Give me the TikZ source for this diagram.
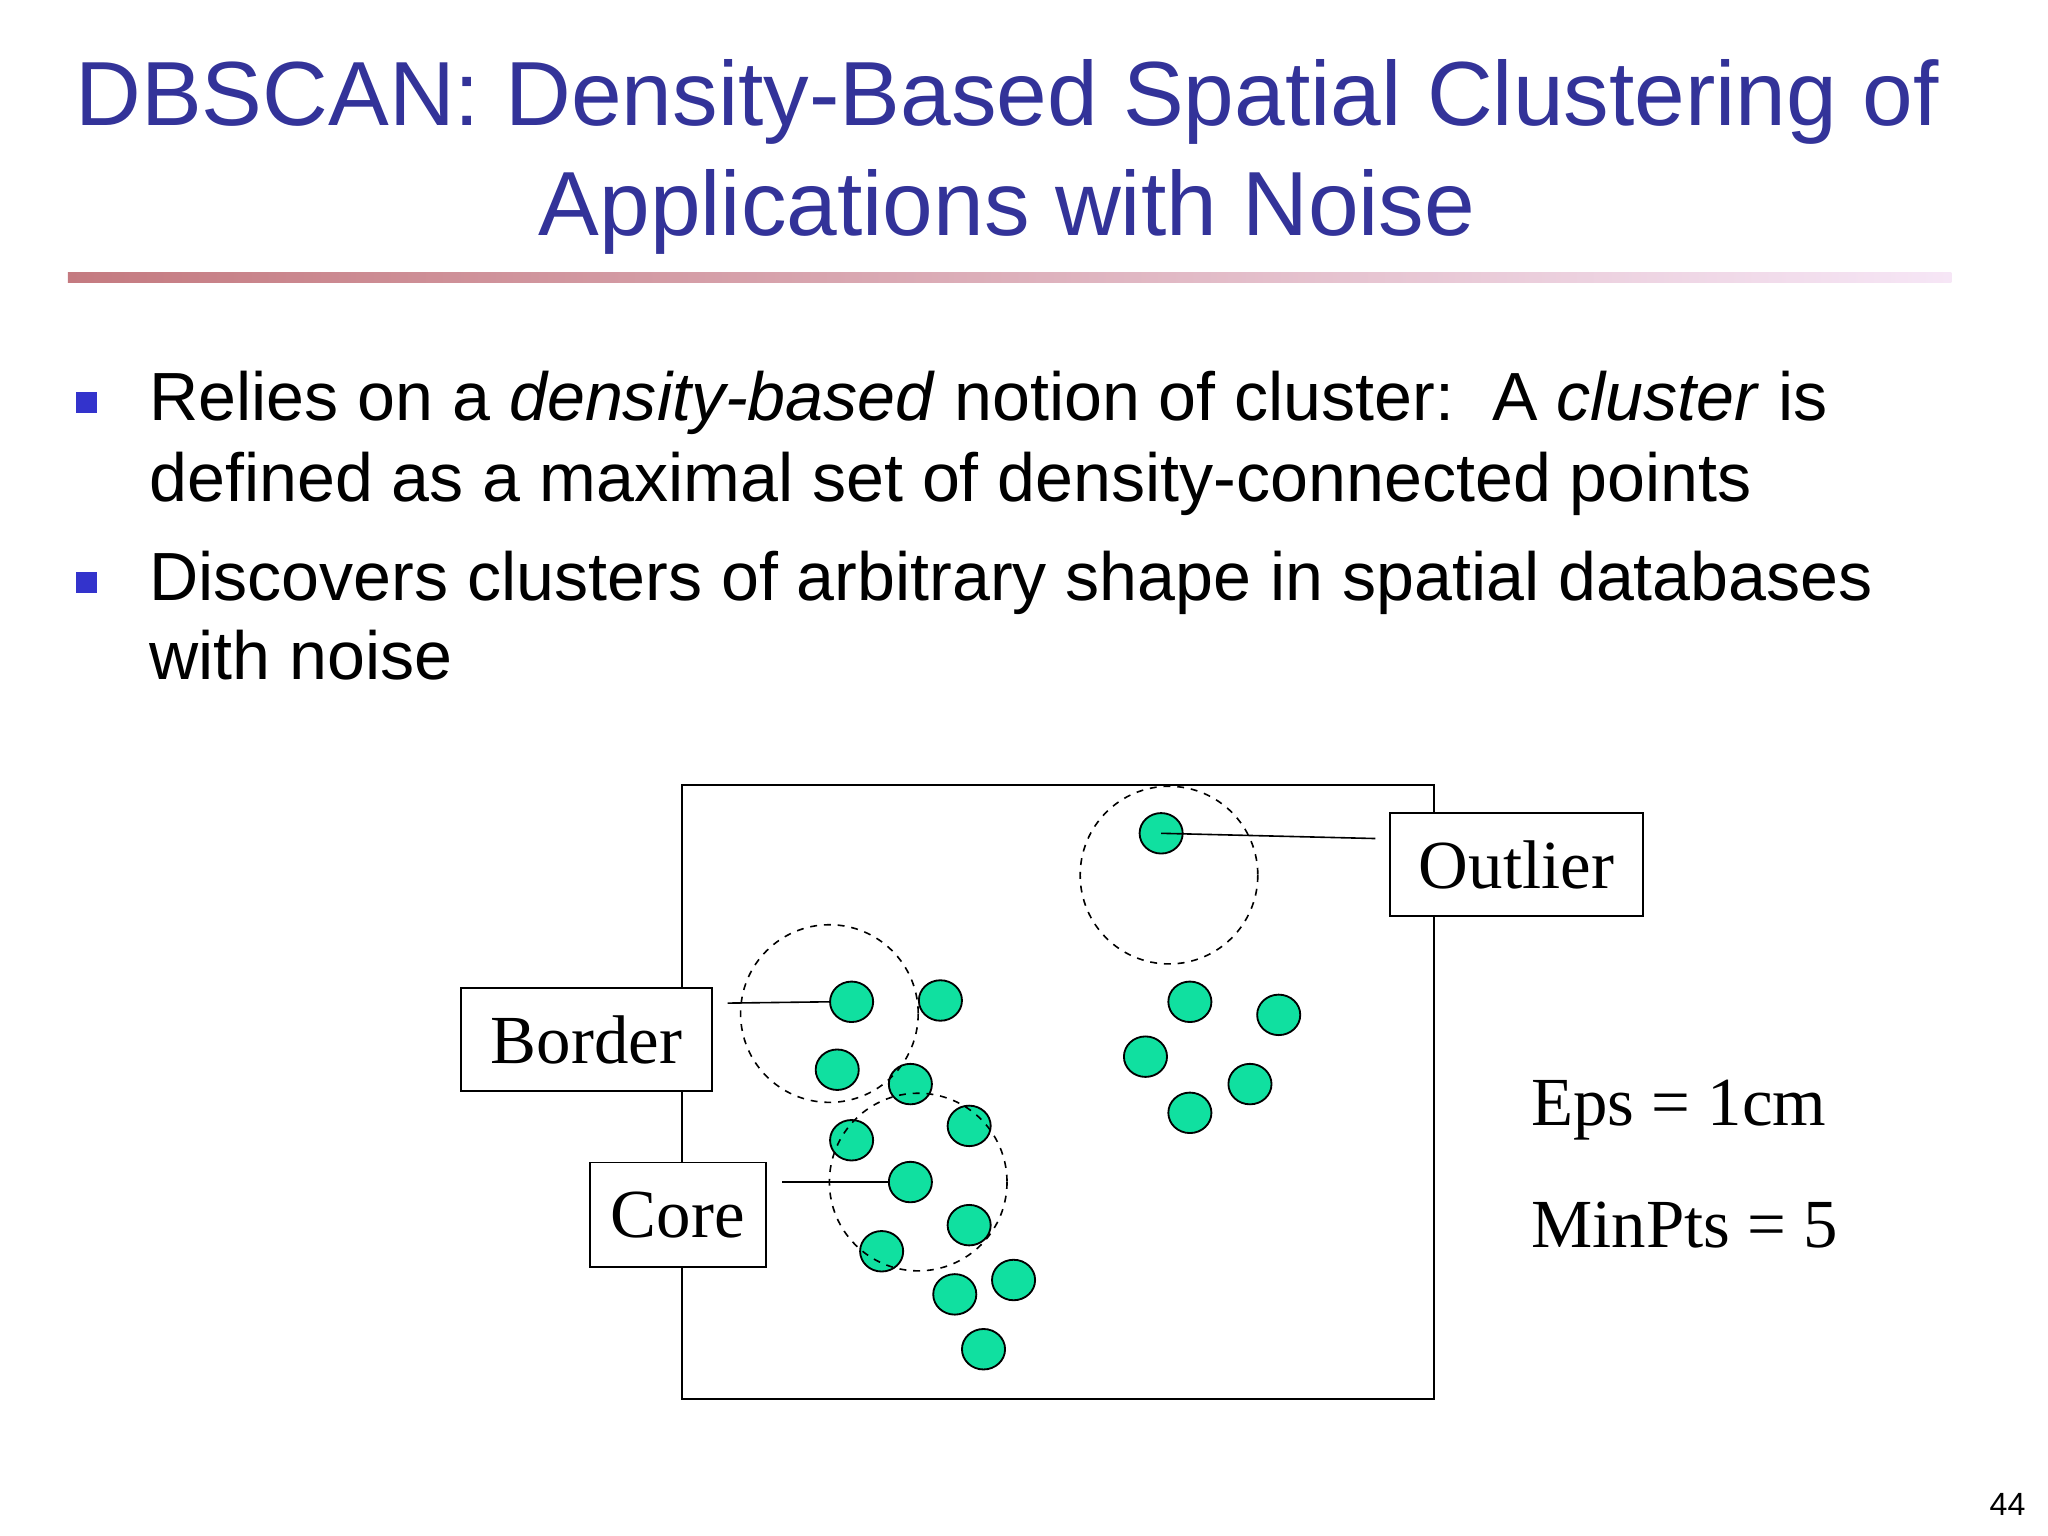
\documentclass[tikz,border=0pt]{standalone}
\usepackage{fontspec}
\usetikzlibrary{shapes.geometric}
\setmainfont{Liberation Sans}
\newfontfamily\tnr{Liberation Serif}
\begin{document}
\begin{tikzpicture}[x=0.02cm,y=-0.02cm,
  dot/.style={draw=black,fill=dotc,line width=0.8pt,ellipse,minimum width=33*0.02cm,minimum height=31*0.02cm,inner sep=0pt},
  lab/.style={draw=black,fill=white,line width=0.8pt,font=\tnr\fontsize{30}{34}\selectfont,inner sep=0pt},
  eps/.style={draw=black,dashed,line width=0.7pt},
  body/.style={anchor=base west,font=\fontsize{29.7}{34}\selectfont,inner sep=0pt}]
\definecolor{dotc}{RGB}{16,224,160}
\definecolor{titc}{RGB}{51,51,153}
\definecolor{bulc}{RGB}{51,51,204}
\useasboundingbox[fill=white] (0,0) rectangle (1568,1176);
\node[titc,font=\fontsize{39.7}{44}\selectfont] (t1) at (771,78) {DBSCAN: Density-Based Spatial Clustering of};
\node[titc,font=\fontsize{39.7}{44}\selectfont] (t2) at (771,162) {Applications with Noise};
\shade[left color={rgb,255:red,196;green,122;blue,128},right color={rgb,255:red,246;green,230;blue,246}] (52,209) rectangle (1494,216);
\fill[bulc] (58,300) rectangle (74,316);
\fill[bulc] (58,438) rectangle (74,454);
\node[body] (b1) at (114,322) {Relies on a \textit{density-based} notion of cluster:\ \ A \textit{cluster} is};
\node[body] (b2) at (114,384) {defined as a maximal set of density-connected points};
\node[body] (b3) at (114,460) {Discovers clusters of arbitrary shape in spatial databases};
\node[body] (b4) at (114,520) {with noise};
\draw[line width=0.8pt] (522,601) rectangle (1098,1071);
\foreach \n/\p in {o/{(889,638)},a1/{(652,767)},a2/{(720,766)},a3/{(641,819)},a4/{(697,830)},a5/{(742,862)},a6/{(652,873)},c/{(697,905)},a8/{(742,938)},a9/{(675,958)},a10/{(731,991)},a11/{(776,980)},a12/{(753,1033)},r1/{(911,767)},r2/{(979,777)},r3/{(877,809)},r4/{(957,830)},r5/{(911,852)}}
  \node[dot] (\n) at \p {};
\draw[eps] (895,670) circle (68);
\draw[eps] (635,776) circle (68);
\draw[eps] (703,905) circle (68);
\node[lab,minimum width=194*0.02cm,minimum height=79*0.02cm] (out) at (1161,662) {Outlier};
\node[lab,minimum width=192*0.02cm,minimum height=79*0.02cm] (bor) at (449,796) {Border};
\node[lab,minimum width=135*0.02cm,minimum height=80*0.02cm] (cor) at (519,930) {Core};
\coordinate (ol) at (1053,642);
\coordinate (bl) at (557,768);
\coordinate (cl) at (599,905);
\draw[line width=0.7pt] (o.center) -- (ol);
\draw[line width=0.7pt] (bl) -- (a1.west);
\draw[line width=0.7pt] (cl) -- (c.west);
\node[anchor=base west,inner sep=0pt,font=\tnr\fontsize{30}{34}\selectfont] (e1) at (1172,862) {Eps = 1cm};
\node[anchor=base west,inner sep=0pt,font=\tnr\fontsize{30}{34}\selectfont] (e2) at (1172,955) {MinPts = 5};
\node[font=\fontsize{14}{16}\selectfont] (pg) at (1537,1152) {44};
\end{tikzpicture}
\end{document}
